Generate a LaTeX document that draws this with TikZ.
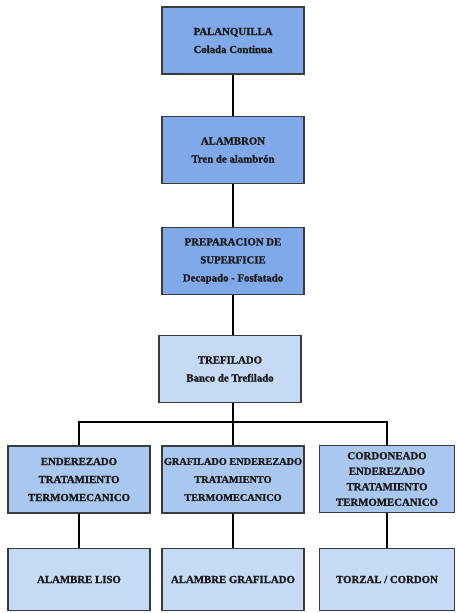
\documentclass[tikz,border=0pt]{standalone}
\usepackage{fontspec}
\setmainfont{Liberation Serif}[FakeBold=1.5]
\definecolor{bdark}{HTML}{80A9EA}
\definecolor{bmid}{HTML}{A9C7F1}
\definecolor{blight}{HTML}{C6DAF6}
\definecolor{edge}{HTML}{3A3A3A}
\definecolor{ink}{HTML}{1A1A1A}
\begin{document}
\begin{tikzpicture}[x=1pt,y=-1pt,
  box/.style={draw=edge,line width=1.2pt,minimum width=142pt,minimum height=67pt,
    align=center,inner sep=1pt,text=ink,font=\fontsize{10.8}{18}\selectfont\bfseries},
  dark/.style={box,fill=bdark},
  mid/.style={box,fill=bmid},
  light/.style={box,fill=blight},
  conn/.style={line width=1.8pt,black}]
\useasboundingbox (0,0) rectangle (456,613);
\node[dark] (palan) at (233,40.5) {PALANQUILLA\\Colada Continua};
\node[dark] (alamb) at (233,150) {ALAMBRON\\Tren de alambrón};
\node[dark] (prep) at (233,261) {PREPARACION DE\\SUPERFICIE\\Decapado - Fosfatado};
\node[light] (tref) at (230,369) {TREFILADO\\Banco de Trefilado};
\node[mid] (ender) at (79,479.5) {ENDEREZADO\\TRATAMIENTO\\TERMOMECANICO};
\node[mid,font=\fontsize{10.3}{18}\selectfont\bfseries] (graf) at (233,479.5) {GRAFILADO ENDEREZADO\\TRATAMIENTO\\TERMOMECANICO};
\node[mid,minimum width=135pt,font=\fontsize{10.8}{15.5}\selectfont\bfseries] (cord) at (387,479) {CORDONEADO\\ENDEREZADO\\TRATAMIENTO\\TERMOMECANICO};
\node[light,minimum height=62pt] (liso) at (79,579.5) {ALAMBRE LISO};
\node[light,minimum height=62pt] (grafo) at (233,579.5) {ALAMBRE GRAFILADO};
\node[light,minimum height=62pt,minimum width=135pt] (torz) at (387,579.5) {TORZAL / CORDON};
\coordinate (bus) at (233,422);
\draw[conn] (palan.south) -- (alamb.north);
\draw[conn] (alamb.south) -- (prep.north);
\draw[conn] (prep.south) -- (prep.south |- tref.north);
\draw[conn] (tref.south -| bus) -- (graf.north);
\draw[conn] (ender.north) |- (bus) -| (cord.north);
\draw[conn] (ender.south) -- (liso.north);
\draw[conn] (graf.south) -- (grafo.north);
\draw[conn] (cord.south) -- (torz.north);
\end{tikzpicture}
\end{document}
